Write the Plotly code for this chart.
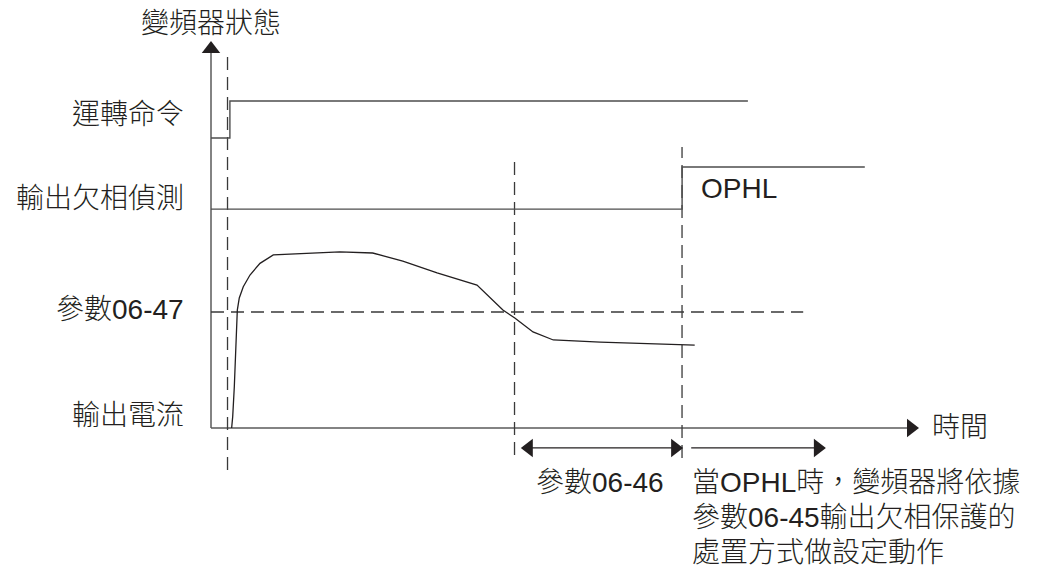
import plotly.graph_objects as go

# ---------------- data (schematic units: time t, level v) ----------------
# run command (運轉命令)
run_t = [0.0, 2.7, 2.7, 76.7]
run_v = [165.7, 165.7, 186.9, 186.9]

# output phase-loss detection (輸出欠相偵測)
ophl_t = [0.0, 67.3, 67.3, 93.4]
ophl_v = [125.1, 125.1, 149.1, 149.1]

# output current (輸出電流)
cur_t = [2.95, 3.10, 3.33, 3.57, 3.76, 4.04, 4.61, 5.57, 7.0, 8.9, 18.4, 23.1,
         27.4, 32.3, 38.0, 41.7, 43.4, 46.0, 48.9, 55.6, 69.1]
cur_v = [0.0, 6.5, 23.6, 50.3, 67.4, 74.3, 80.7, 87.4, 94.1, 98.9, 100.6, 100.0,
         95.4, 88.6, 81.7, 67.4, 62.9, 54.9, 50.3, 49.1, 47.4]

# threshold parameter 06-47
thr_level = 66.3
thr_t = [0.0, 84.6]

# event times (dashed verticals) and their extents
ev_run = 2.36
ev_below = 43.36
ev_ophl = 67.29
ev_run_v = [-24.0, 216.0]
ev_below_v = [-15.4, 153.1]
ev_ophl_v = [-17.1, 160.6]

# axes extents
t_axis_end = 100.0
v_axis_end = 216.6

# time windows (arrows under the time axis)
win_0646 = [45.4, 66.3]
win_action = [68.6, 86.7]
win_level = -11.4

# labels
title_lbl = "變頻器狀態"
time_lbl = "時間"
row_labels = ["運轉命令", "輸出欠相偵測", "參數06-47", "輸出電流"]
row_label_v = [179.4, 131.0, 68.0, 7.4]
ophl_lbl = "OPHL"
p0646_lbl = "參數06-46"
note_lines = ["當OPHL時，變頻器將依據", "參數06-45輸出欠相保護的", "處置方式做設定動作"]
note_v = [-30.9, -51.4, -71.4]

# ---------------- styling ----------------
TXT = "#231f20"
AX = "#5a5a5a"
SIG = "#4d4d4d"
DASH = "#3a3a3a"
FONT = "Liberation Sans, Noto Sans CJK TC, sans-serif"
FS = 28

fig = go.Figure()

def line(x, y, color, width, dash=None):
    fig.add_trace(go.Scatter(x=x, y=y, mode="lines",
                             line=dict(color=color, width=width, dash=dash),
                             hoverinfo="skip", showlegend=False))

def head(x, y, sym, size=16):
    fig.add_trace(go.Scatter(x=[x], y=[y], mode="markers",
                             marker=dict(symbol=sym, size=size, color=TXT,
                                         line=dict(width=0)),
                             hoverinfo="skip", showlegend=False))

# axes
line([0, 0], [0, v_axis_end], AX, 1.5)
line([0, t_axis_end], [0, 0], AX, 1.5)
head(0, v_axis_end, "triangle-up")
head(t_axis_end, 0, "triangle-right")

# dashed verticals
DSH = "13px,7px"
line([ev_run, ev_run], ev_run_v, DASH, 1.3, DSH)
line([ev_below, ev_below], ev_below_v, DASH, 1.3, DSH)
line([ev_ophl, ev_ophl], ev_ophl_v, DASH, 1.3, DSH)
# threshold
line(thr_t, [thr_level, thr_level], DASH, 1.3, DSH)

# signals
line(run_t, run_v, SIG, 1.4)
line(ophl_t, ophl_v, SIG, 1.4)
line(cur_t, cur_v, TXT, 1.3)

# window arrows
line(win_0646, [win_level, win_level], TXT, 1.3)
head(win_0646[0], win_level, "triangle-left")
head(win_0646[1], win_level, "triangle-right")
line(win_action, [win_level, win_level], TXT, 1.3)
head(win_action[1], win_level, "triangle-right")

def text(x, y, s, anchor):
    fig.add_annotation(x=x, y=y, xref="x", yref="y", text=s, showarrow=False,
                       xanchor=anchor, yanchor="middle", borderpad=0,
                       font=dict(family=FONT, size=FS, color=TXT, weight=300))

text(0, 231.4, title_lbl, "center")
for lbl, v in zip(row_labels, row_label_v):
    text(-3.7, v, lbl, "right")
text(102.8, 0.5, time_lbl, "left")
text(69.9, 136.6, ophl_lbl, "left")
text(55.6, -31.4, p0646_lbl, "center")
for s, v in zip(note_lines, note_v):
    text(68.6, v, s, "left")

# the page body adds an 8px offset; the figure fills the remaining window
OFF = 8
W, H = 1038 - OFF, 571 - OFF
fig.update_layout(
    width=W, height=H, autosize=False,
    margin=dict(l=0, r=0, t=0, b=0),
    paper_bgcolor="white", plot_bgcolor="white",
    xaxis=dict(range=[(OFF - 211) / 7, (1038 - 211) / 7], visible=False, fixedrange=True),
    yaxis=dict(range=[(428 - 571) / 1.75, (428 - OFF) / 1.75], visible=False, fixedrange=True),
)

fig.write_html("out.html")
